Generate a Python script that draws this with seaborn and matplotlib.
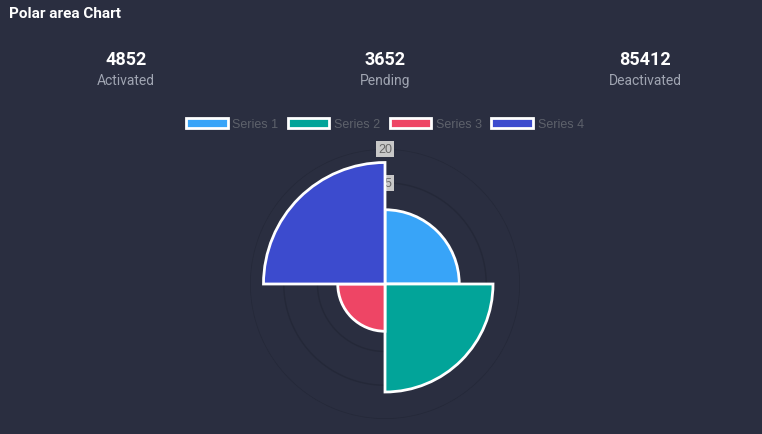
import numpy as np
import matplotlib
matplotlib.use("Agg")
import matplotlib.pyplot as plt
import seaborn as sns
from matplotlib.patches import Patch

# ---- data ----
labels = ["Series 1", "Series 2", "Series 3", "Series 4"]
values = [11, 16, 7, 18]
colors = ["#38a4f8", "#02a499", "#ee4565", "#3c4bce"]
ring_ticks = [5, 10, 15, 20]
stat_values = ["4852", "3652", "85412"]
stat_labels = ["Activated", "Pending", "Deactivated"]

BG = "#2a2e40"

sns.set_theme(style="dark")
plt.rcParams['font.family'] = ['Roboto', 'DejaVu Sans']

W, H = 762, 435
fig = plt.figure(figsize=(W / 100, H / 100), dpi=100, facecolor=BG)

# title
fig.text(9 / W, 1 - 14 / H, "Polar area Chart", color="white", fontsize=11,
         fontweight="bold", ha="left", va="center")

# stats
for x, v, l in zip([126, 385, 645], stat_values, stat_labels):
    fig.text(x / W, 1 - 60 / H, v, color="white", fontsize=13, fontweight="bold",
             ha="center", va="center")
    fig.text(x / W, 1 - 81 / H, l, color="#a0a5b2", fontsize=10,
             ha="center", va="center")

# polar axes
cx, cy, R = 385, 285, 135
ax = fig.add_axes([(cx - R) / W, (H - cy - R) / H, 2 * R / W, 2 * R / H],
                  projection="polar")
ax.set_facecolor(BG)
ax.set_theta_zero_location("N")
ax.set_theta_direction(-1)

n = len(values)
width = 2 * np.pi / n
theta = np.arange(n) * width + width / 2
ax.bar(theta, values, width=width, color=colors, edgecolor="white",
       linewidth=2, zorder=3)

ax.set_ylim(0, 20)
ax.set_yticks(ring_ticks)
ax.set_yticklabels([])
ax.set_xticks([])
ax.grid(False)
tt = np.linspace(0, 2 * np.pi, 361)
for r in ring_ticks:
    ax.plot(tt, np.full_like(tt, r), color="#242838", linewidth=1, zorder=1)
ax.spines["polar"].set_visible(False)
for r in ring_ticks:
    ax.text(0, r, str(r), ha="center", va="center", color="#666666", fontsize=9,
            family=["Liberation Sans", "DejaVu Sans"],
            bbox=dict(boxstyle="square,pad=0.15", facecolor="#c8c8c8",
                      edgecolor="none"), zorder=2)

# legend
handles = [Patch(facecolor=c, edgecolor="white", linewidth=2, label=l)
           for c, l in zip(colors, labels)]
fig.legend(handles=handles, loc="center", bbox_to_anchor=(385 / W, 1 - 125 / H),
           ncol=4, frameon=False, handlelength=3.3, handleheight=0.9,
           handletextpad=0.4, columnspacing=0.75, labelcolor="#5d616b",
           prop={"family": ["Liberation Sans", "DejaVu Sans"], "size": 9})

fig.savefig("out.png", dpi=100, facecolor=BG)
